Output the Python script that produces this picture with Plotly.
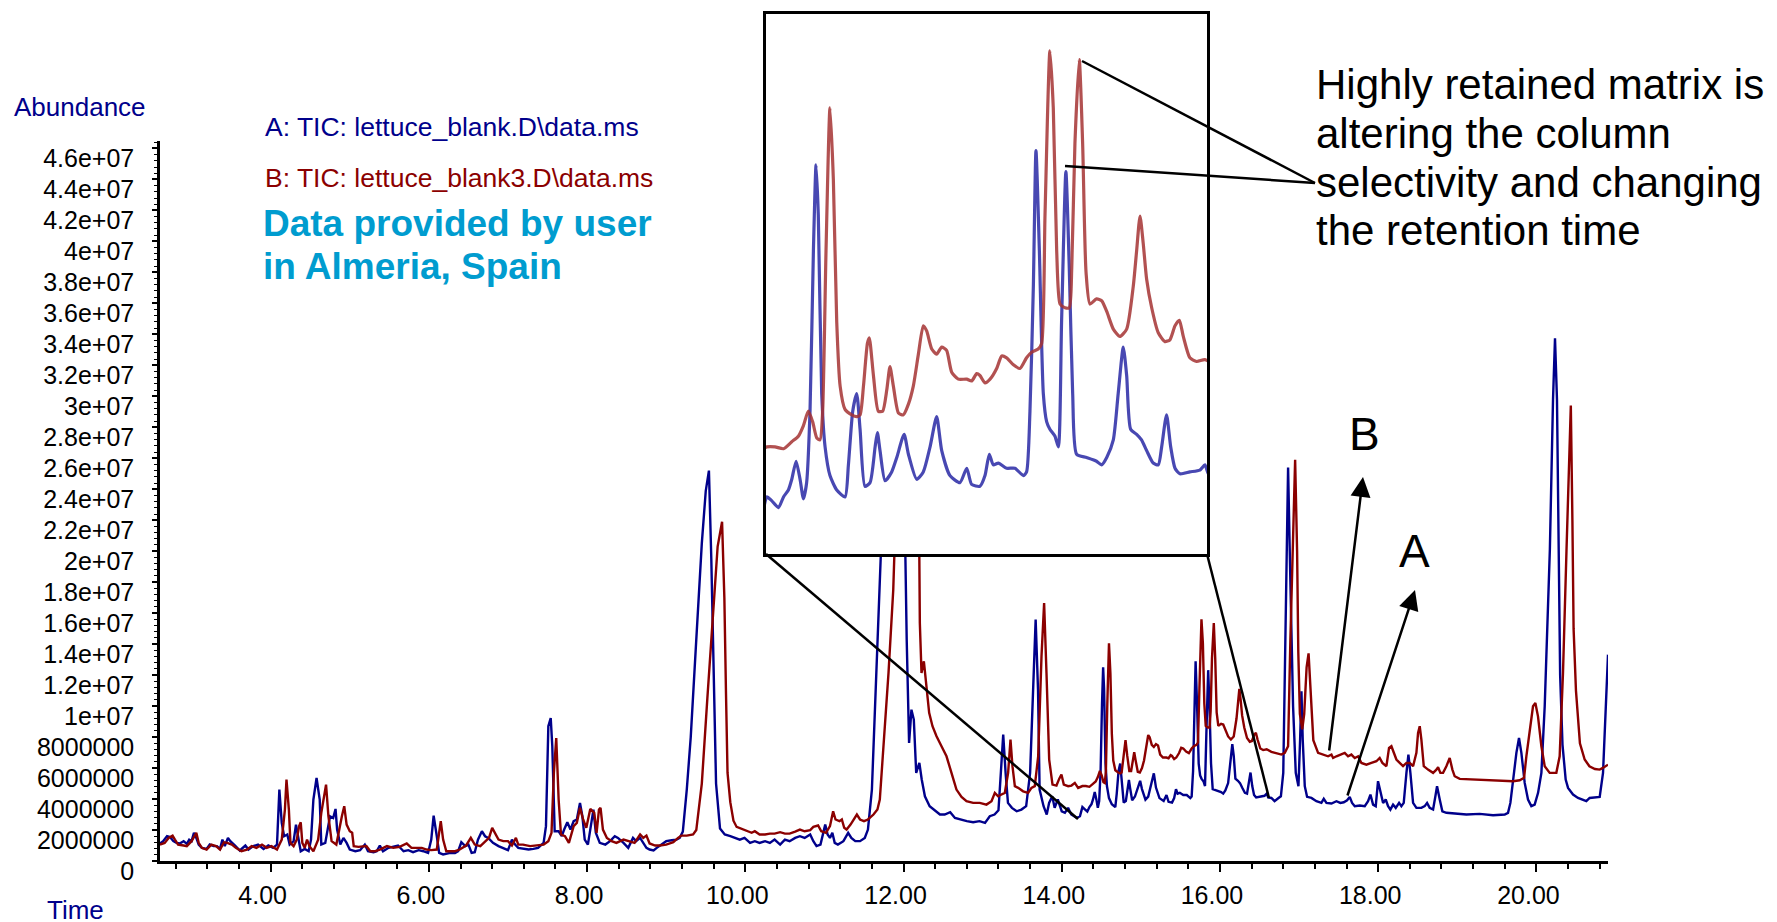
import plotly.graph_objects as go

# ---------------- data (time in min, abundance in millions) ----------------
a_time = [2.60, 2.64, 2.69, 2.73, 2.77, 2.81, 2.85, 2.90, 2.94, 2.97, 3.00, 3.03, 3.06, 3.09, 3.13, 3.19, 3.23, 3.28, 3.32, 3.36,
          3.39, 3.42, 3.46, 3.49, 3.55, 3.61, 3.68, 3.72, 3.78, 3.84, 3.91, 3.97, 4.03, 4.08, 4.11, 4.14, 4.17, 4.21, 4.24, 4.29,
          4.32, 4.35, 4.38, 4.43, 4.48, 4.51, 4.54, 4.58, 4.62, 4.64, 4.69, 4.75, 4.79, 4.82, 4.84, 4.88, 4.92, 4.96, 5.00, 5.07,
          5.13, 5.19, 5.23, 5.30, 5.34, 5.38, 5.42, 5.49, 5.55, 5.61, 5.68, 5.74, 5.80, 5.87, 5.93, 5.99, 6.03, 6.06, 6.10, 6.13,
          6.18, 6.27, 6.33, 6.37, 6.41, 6.46, 6.50, 6.54, 6.58, 6.62, 6.67, 6.71, 6.75, 6.81, 6.88, 6.94, 7.00, 7.05, 7.09, 7.13,
          7.19, 7.26, 7.32, 7.38, 7.45, 7.48, 7.51, 7.54, 7.56, 7.59, 7.64, 7.68, 7.71, 7.75, 7.79, 7.83, 7.87, 7.91, 7.94, 7.97,
          8.01, 8.04, 8.08, 8.11, 8.16, 8.23, 8.29, 8.35, 8.39, 8.46, 8.52, 8.58, 8.62, 8.67, 8.71, 8.75, 8.79, 8.84, 8.88, 8.94,
          9.00, 9.07, 9.13, 9.17, 9.21, 9.26, 9.31, 9.38, 9.45, 9.50, 9.54, 9.57, 9.60, 9.63, 9.68, 9.74, 9.81, 9.87, 9.93, 9.99,
          10.06, 10.12, 10.18, 10.25, 10.31, 10.37, 10.44, 10.50, 10.56, 10.63, 10.69, 10.75, 10.82, 10.86, 10.90, 10.95, 10.98,
          11.01, 11.04, 11.07, 11.10, 11.13, 11.17, 11.24, 11.30, 11.34, 11.39, 11.45, 11.51, 11.55, 11.60, 11.64, 11.68, 11.72,
          11.82, 11.93, 12.00, 12.02, 12.04, 12.07, 12.10, 12.13, 12.16, 12.20, 12.23, 12.27, 12.33, 12.40, 12.46, 12.52, 12.59,
          12.65, 12.71, 12.80, 12.88, 12.96, 13.03, 13.09, 13.15, 13.20, 13.23, 13.26, 13.29, 13.32, 13.37, 13.43, 13.49, 13.55,
          13.60, 13.64, 13.67, 13.70, 13.72, 13.77, 13.81, 13.84, 13.88, 13.91, 13.95, 14.00, 14.04, 14.08, 14.12, 14.19, 14.23,
          14.261, 14.287, 14.323, 14.350, 14.376, 14.394, 14.417, 14.438, 14.456, 14.473, 14.491, 14.509, 14.523, 14.535, 14.553,
          14.571, 14.597, 14.633, 14.677, 14.695, 14.718, 14.739, 14.757, 14.783, 14.810, 14.837, 14.849, 14.863, 14.890, 14.925,
          14.952, 14.991, 15.014, 15.058, 15.093, 15.129, 15.164, 15.191, 15.235, 15.288, 15.324, 15.350, 15.394, 15.421, 15.444,
          15.465, 15.492, 15.536, 15.580, 15.625, 15.642, 15.660, 15.678, 15.692, 15.710, 15.731, 15.749, 15.766, 15.793, 15.811,
          15.828, 15.851, 15.869, 15.887, 15.908, 15.961, 16.014, 16.041, 16.068, 16.103, 16.129, 16.156, 16.174, 16.195, 16.227,
          16.253, 16.280, 16.315, 16.342, 16.360, 16.386, 16.408, 16.431, 16.457, 16.510, 16.563, 16.590,
          16.61, 16.65, 16.69, 16.74, 16.77, 16.80, 16.83, 16.861, 16.89, 16.924, 16.958, 16.992, 17.013, 17.030, 17.046, 17.072,
          17.101, 17.156, 17.219, 17.282, 17.312, 17.346, 17.409, 17.472, 17.522, 17.565, 17.607, 17.640, 17.670, 17.704, 17.767,
          17.830, 17.872, 17.902, 17.935, 17.969, 17.998, 18.028, 18.062, 18.095, 18.125, 18.154, 18.188, 18.222, 18.264, 18.293,
          18.323, 18.357, 18.382, 18.407, 18.441, 18.483, 18.546, 18.588, 18.618, 18.651, 18.694, 18.723, 18.744, 18.778, 18.811,
          18.862, 18.946, 19.115, 19.283, 19.452, 19.599, 19.641, 19.671, 19.705, 19.747, 19.780, 19.810, 19.852, 19.894, 19.936,
          19.978, 20.021, 20.063, 20.105, 20.147, 20.17, 20.21, 20.235, 20.26, 20.28, 20.30, 20.33, 20.37, 20.40, 20.463, 20.526,
          20.589, 20.631, 20.673, 20.737, 20.800, 20.842, 20.876, 20.905]
a_abund_m = [1.13, 1.28, 1.60, 1.54, 1.28, 1.17, 1.13, 1.28, 1.11, 1.38, 1.28, 1.82, 1.49, 1.06, 0.85, 0.78, 1.06, 0.96, 0.96, 0.78,
             1.38, 0.96, 1.49, 1.28, 1.00, 0.68, 1.00, 0.74, 0.96, 1.06, 0.78, 1.00, 0.85, 1.06, 4.61, 2.46, 1.60, 1.71, 1.06, 1.28,
             2.35, 1.38, 0.63, 0.78, 0.63, 1.38, 3.97, 5.36, 3.97, 1.06, 1.17, 2.89, 2.78, 3.36, 2.03, 1.06, 1.49, 1.17, 0.74, 0.63,
             0.70, 1.06, 0.63, 0.57, 0.63, 1.00, 0.63, 0.85, 0.91, 1.00, 0.63, 0.70, 0.57, 0.70, 0.63, 0.52, 1.38, 2.93, 1.60, 0.52,
             0.42, 0.52, 0.52, 0.63, 1.21, 0.96, 1.06, 0.52, 0.57, 1.38, 1.92, 1.60, 1.49, 1.17, 0.96, 0.85, 0.70, 1.38, 1.06, 0.85,
             0.78, 0.74, 0.78, 0.85, 1.17, 2.25, 8.70, 9.23, 7.41, 1.92, 1.92, 1.60, 2.03, 2.50, 2.03, 2.57, 2.68, 3.75, 2.89, 1.38,
             1.06, 2.03, 3.32, 1.82, 1.17, 1.06, 1.28, 1.60, 1.49, 1.17, 0.85, 1.49, 1.28, 1.49, 1.17, 0.85, 0.74, 0.68, 0.85, 1.06,
             1.28, 1.34, 1.38, 1.49, 1.90, 4.61, 8.00, 14.29, 20.50, 23.90, 25.20, 19.50, 11.50, 5.00, 2.10, 1.71, 1.60, 1.49, 1.38, 1.49,
             1.17, 1.28, 1.17, 1.28, 1.17, 1.38, 1.06, 1.38, 1.28, 1.49, 1.60, 1.49, 1.71, 1.28, 0.96, 1.06, 1.71,
             2.35, 1.71, 1.49, 1.82, 1.17, 1.06, 1.28, 1.82, 1.49, 1.28, 1.28, 1.49, 2.03, 4.61, 9.99, 16.44, 20.74,
             27.5, 30.0, 25.0, 20.74, 14.29, 7.62, 9.77, 9.13, 5.69, 6.33, 5.26, 4.18, 3.54, 3.27, 3.00, 3.00, 3.15,
             2.78, 2.68, 2.57, 2.50, 2.57, 2.46, 2.89, 3.00, 3.27, 5.69, 8.16, 5.69, 3.75, 3.43, 3.21, 3.32, 3.54,
             5.69, 12.14, 15.58, 11.06, 4.61, 3.54, 3.00, 3.75, 4.18, 3.43, 3.97, 3.21, 3.11, 3.43, 3.00, 2.78, 2.89,
             3.48, 3.38, 3.19, 3.48, 3.67, 3.96, 4.45, 3.96, 3.43, 3.87, 5.81, 10.17, 12.50, 11.14, 6.29,
             4.84, 4.06, 3.67, 3.48, 4.35, 5.81, 6.29, 5.32, 3.77, 3.87, 4.84, 5.23, 4.74, 3.92, 4.16,
             4.55, 5.18, 4.64, 3.96, 4.16, 4.84, 5.66, 4.74, 4.06, 3.87, 4.26, 3.82, 3.77, 4.06, 4.64,
             4.35, 4.40, 4.26, 4.26, 4.06, 4.16, 5.81, 9.20, 12.89, 10.17, 6.29, 5.52, 5.32, 5.13, 4.84,
             8.23, 12.32, 9.69, 6.29, 4.64, 4.55, 4.45, 4.35, 4.55, 5.03, 6.29, 7.55, 6.78, 5.32, 5.18,
             5.03, 4.74, 4.40, 4.35, 4.84, 5.71, 4.84, 4.26, 4.11, 4.16, 4.21, 4.35,
             4.10, 4.07, 3.86, 4.07, 4.18, 5.69, 14.29, 25.40, 18.0, 9.99, 5.69, 4.83, 7.84, 10.96, 7.84, 4.83,
             4.14, 4.07, 3.86, 3.75, 4.01, 3.75, 3.71, 3.86, 3.75, 3.79, 3.92, 4.14, 3.75, 3.54, 3.58,
             3.54, 3.86, 4.29, 3.64, 3.54, 5.15, 4.40, 3.75, 3.97, 3.54, 3.32, 3.64, 3.43, 3.75, 3.54,
             3.75, 5.69, 6.87, 5.69, 3.75, 3.43, 3.43, 3.54, 3.75, 3.43, 3.32, 4.18, 4.83, 3.97, 3.21,
             3.11, 3.06, 3.00, 3.04, 2.95, 3.00, 3.11, 3.75, 5.26, 6.98, 7.94, 6.98, 5.04, 3.97, 3.54,
             3.64, 4.40, 5.69, 9.99, 16.44, 20.10, 29.80, 33.75, 29.80, 20.10, 12.00, 7.50, 5.26, 4.72, 4.29, 4.07,
             3.97, 3.86, 4.07, 4.12, 4.14, 5.69, 9.99, 13.32]

b_time = [2.60, 2.66, 2.71, 2.76, 2.79, 2.83, 2.90, 2.94, 3.00, 3.06, 3.09, 3.13, 3.19, 3.25, 3.31, 3.36, 3.41, 3.45, 3.51, 3.56,
          3.63, 3.70, 3.76, 3.82, 3.89, 3.95, 4.01, 4.08, 4.14, 4.18, 4.20, 4.23, 4.25, 4.29, 4.33, 4.36, 4.38, 4.40, 4.43, 4.46,
          4.49, 4.54, 4.60, 4.64, 4.70, 4.73, 4.77, 4.83, 4.90, 4.93, 4.96, 5.00, 5.03, 5.05, 5.11, 5.17, 5.21, 5.26, 5.32, 5.38,
          5.47, 5.55, 5.63, 5.72, 5.78, 5.85, 5.91, 5.97, 6.03, 6.10, 6.13, 6.15, 6.18, 6.22, 6.27, 6.33, 6.39, 6.47, 6.53, 6.58,
          6.65, 6.71, 6.76, 6.80, 6.84, 6.88, 6.94, 7.00, 7.05, 7.10, 7.13, 7.19, 7.28, 7.36, 7.45, 7.51, 7.55, 7.58, 7.61, 7.64,
          7.67, 7.72, 7.77, 7.83, 7.87, 7.91, 7.95, 7.99, 8.04, 8.09, 8.12, 8.15, 8.17, 8.20, 8.25, 8.31, 8.37, 8.46, 8.54, 8.60,
          8.67, 8.71, 8.75, 8.79, 8.86, 8.92, 9.00, 9.09, 9.15, 9.19, 9.26, 9.34, 9.38, 9.45, 9.52, 9.59, 9.65, 9.706, 9.735, 9.755,
          9.775, 9.81, 9.85, 9.89, 9.95, 10.02, 10.08, 10.12, 10.18, 10.25, 10.31, 10.37, 10.44, 10.50, 10.56, 10.63, 10.69, 10.75,
          10.82, 10.86, 10.92, 10.96, 11.02, 11.07, 11.11, 11.14, 11.19, 11.22, 11.25, 11.28, 11.33, 11.41, 11.45, 11.50, 11.55,
          11.62, 11.67, 11.70, 11.74, 11.81, 11.87, 11.89, 12.00, 12.10, 12.17, 12.198, 12.206, 12.227, 12.257, 12.282, 12.324,
          12.366, 12.417, 12.480, 12.543, 12.606, 12.669, 12.733, 12.796, 12.880, 12.964, 13.048, 13.112, 13.154, 13.196, 13.238,
          13.280, 13.322, 13.352, 13.377, 13.407, 13.449, 13.512, 13.575, 13.617, 13.659, 13.702, 13.744, 13.777, 13.807, 13.841,
          13.883, 13.933, 13.967, 13.996, 14.026, 14.081, 14.123, 14.165, 14.207,
          14.261, 14.305, 14.350, 14.394, 14.429, 14.456, 14.482, 14.505, 14.527, 14.544, 14.558, 14.576, 14.597, 14.615, 14.633,
          14.651, 14.677, 14.713, 14.739, 14.757, 14.775, 14.796, 14.806, 14.828, 14.854, 14.877, 14.899, 14.916, 14.934, 14.961,
          14.987, 15.014, 15.040, 15.067, 15.093, 15.111, 15.138, 15.164, 15.191, 15.217, 15.244, 15.279, 15.324, 15.350, 15.377,
          15.394, 15.421, 15.448, 15.483, 15.510, 15.536, 15.572, 15.607, 15.642, 15.669, 15.704, 15.722, 15.740, 15.766, 15.784,
          15.802, 15.820, 15.846, 15.869, 15.882, 15.899, 15.922, 15.940, 15.958, 15.979, 16.014, 16.041, 16.068, 16.103, 16.138,
          16.174, 16.209, 16.227, 16.245, 16.262, 16.280, 16.307, 16.342, 16.377, 16.404, 16.431, 16.454, 16.475, 16.510, 16.546,
          16.590,
          16.650, 16.714, 16.777, 16.819, 16.861, 16.89, 16.92, 16.95, 16.975, 16.99, 17.01, 17.04, 17.065, 17.095, 17.12, 17.145,
          17.18, 17.24, 17.303, 17.366, 17.409, 17.430, 17.472, 17.535, 17.577, 17.619, 17.661, 17.704, 17.746, 17.788, 17.851,
          17.914, 17.977, 18.019, 18.053, 18.104, 18.137, 18.167, 18.196, 18.230, 18.272, 18.314, 18.357, 18.399, 18.441, 18.483,
          18.504, 18.525, 18.546, 18.576, 18.630, 18.694, 18.736, 18.757, 18.786, 18.820, 18.862, 18.904, 18.938, 18.967, 19.031,
          19.199, 19.368, 19.536, 19.705, 19.789, 19.844, 19.873, 19.924, 19.957, 19.987, 20.020, 20.063, 20.105, 20.168, 20.252,
          20.294, 20.336, 20.38, 20.41, 20.435, 20.455, 20.47, 20.50, 20.55, 20.61, 20.67, 20.74, 20.80, 20.84, 20.905]
b_abund_m = [1.06, 1.17, 1.49, 1.64, 1.38, 1.06, 1.00, 0.96, 1.28, 1.82, 1.17, 0.85, 0.74, 1.06, 0.96, 0.74, 1.21, 1.17, 1.06, 0.85,
             0.63, 0.74, 0.96, 0.85, 1.06, 0.85, 0.96, 0.74, 1.38, 3.32, 5.26, 3.32, 1.17, 0.96, 1.38, 2.25, 2.50, 1.17, 0.85, 1.38,
             0.96, 0.63, 1.38, 3.11, 4.93, 2.89, 1.28, 1.06, 2.89, 3.54, 2.35, 1.92, 1.82, 0.96, 0.91, 0.96, 0.96, 0.63, 0.63, 0.74,
             0.96, 0.85, 0.91, 1.13, 0.85, 0.85, 0.85, 0.74, 0.70, 0.74, 1.82, 2.57, 1.38, 0.63, 0.63, 0.63, 0.74, 1.00, 1.49, 1.06,
             0.96, 1.28, 1.49, 2.14, 1.71, 1.38, 1.28, 1.28, 1.00, 1.49, 1.06, 1.06, 0.96, 1.00, 1.06, 1.28, 1.82, 5.69, 7.94, 3.97,
             1.71, 1.60, 1.17, 2.25, 2.46, 3.43, 2.68, 2.14, 3.36, 3.11, 1.82, 3.32, 3.43, 2.03, 1.49, 1.28, 1.17, 1.38, 1.28, 1.17,
             1.71, 1.49, 1.64, 1.13, 1.00, 1.00, 1.06, 1.21, 1.49, 1.64, 1.64, 1.71, 2.00, 5.00, 10.50, 16.00, 20.30, 21.90, 17.00, 11.00,
             5.70, 3.80, 2.60, 2.20, 2.07, 1.92, 1.82, 1.92, 1.71, 1.71, 1.77, 1.77, 1.86, 1.77, 1.77, 1.90, 2.03, 1.92,
             1.99, 2.20, 2.29, 1.92, 1.82, 2.25, 3.21, 2.68, 2.57, 2.68, 2.14, 2.03, 2.35, 3.00, 2.68, 2.57, 2.68,
             3.00, 3.32, 3.97, 6.76, 12.14, 17.51, 20.74, 26.0, 28.5, 24.0, 20.74, 15.36, 12.14, 12.89, 11.71, 9.56,
             8.70, 8.05, 7.41, 6.76, 5.69, 4.61, 4.14, 3.86, 3.75, 3.75, 3.64, 3.86, 4.40, 4.18, 4.29,
             4.40, 5.69, 7.84, 6.12, 4.83, 4.72, 4.50, 4.40, 4.72, 4.83, 6.76, 13.21, 16.65, 12.14, 6.55,
             4.93, 4.87, 5.30, 5.58, 4.93, 4.83, 4.87, 5.04, 4.72,
             4.84, 4.84, 4.79, 4.98, 5.13, 5.42, 5.81, 5.52, 5.08, 5.03, 5.81, 10.17, 14.05, 12.11, 8.23,
             6.49, 5.86, 5.71, 5.66, 5.71, 6.49, 7.65, 7.80, 6.78, 5.81, 5.81, 6.39, 7.02, 6.49, 5.76,
             5.71, 6.00, 6.49, 7.36, 8.13, 7.99, 7.50, 7.36, 7.55, 7.46, 6.87, 6.68, 6.68, 6.63, 6.83,
             6.78, 6.58, 6.68, 6.97, 7.31, 7.26, 7.07, 6.97, 7.26, 7.41, 7.50, 7.65, 11.14, 15.60, 14.05,
             10.17, 8.72, 8.62, 8.62, 9.69, 13.08, 15.36, 13.08, 9.59, 8.72, 8.86, 8.81, 8.52, 8.04, 7.84,
             8.04, 9.20, 10.17, 11.11, 10.37, 9.40, 8.62, 7.94, 7.70, 7.75, 8.13, 8.28, 7.84, 7.26, 7.16,
             7.21,
             7.05, 6.98, 6.87, 6.98, 7.41, 14.29, 21.00, 25.90, 20.00, 13.50, 9.50, 8.50, 9.50, 12.50, 13.40, 11.00,
             7.80, 6.98, 6.87, 6.76, 6.87, 6.65, 6.76, 6.87, 6.98, 6.76, 6.87, 6.65, 6.76, 6.33, 6.22,
             6.33, 6.44, 6.65, 6.33, 6.12, 7.30, 7.41, 6.98, 6.55, 6.33, 6.12, 6.33, 6.33, 6.12, 6.98,
             8.27, 8.70, 7.84, 6.12, 5.90, 5.69, 5.90, 6.05, 5.69, 5.69, 6.12, 6.65, 5.90, 5.47, 5.30,
             5.26, 5.21, 5.15, 5.15, 5.21, 5.37, 6.76, 8.70, 9.99, 10.20, 9.34, 7.41, 6.12, 5.69, 5.69,
             6.76, 12.14, 20.00, 25.50, 29.40, 22.00, 15.00, 11.00, 7.60, 6.55, 6.12, 5.94, 5.90, 6.01, 6.22]

a_abund = [v * 1e6 for v in a_abund_m]
b_abund = [v * 1e6 for v in b_abund_m]

y_tick_values = [i * 2_000_000 for i in range(24)]
y_tick_labels = [str(int(v)) if v < 1e7 else ('%g' % v) for v in y_tick_values]
x_tick_values = [4, 6, 8, 10, 12, 14, 16, 18, 20]
x_tick_labels = ['%.2f' % v for v in x_tick_values]

legend_a = 'A: TIC: lettuce_blank.D\\data.ms'
legend_b = 'B: TIC: lettuce_blank3.D\\data.ms'
note_lines = ['Highly retained matrix is', 'altering the column',
              'selectivity and changing', 'the retention time']

# ---------------- layout geometry (page pixels; page has an 8px body margin) ----------------
W, H = 1777, 922
OFF = 8
L, R, T, B = 160, 1608, 10, 861       # paper box in page pixels
MAIN_TOP = 141


def P(x, y):
    return (x - L) / (R - L), (B - y) / (B - T)


NAVY = '#00008B'
DRED = '#8B0000'
FONT = 'Liberation Sans, Arial, sans-serif'

fig = go.Figure()
fig.add_trace(go.Scatter(x=a_time, y=a_abund, mode='lines', line=dict(color=NAVY, width=2.4),
                         xaxis='x', yaxis='y', showlegend=False, hoverinfo='skip'))
fig.add_trace(go.Scatter(x=b_time, y=b_abund, mode='lines', line=dict(color=DRED, width=2.4),
                         xaxis='x', yaxis='y', showlegend=False, hoverinfo='skip'))
# inset (magnified view of the same two traces)
fig.add_trace(go.Scatter(x=a_time, y=a_abund, mode='lines',
                         line=dict(color='rgba(40,40,165,0.85)', width=3.2, shape='spline', smoothing=0.6),
                         xaxis='x2', yaxis='y2', showlegend=False, hoverinfo='skip'))
fig.add_trace(go.Scatter(x=b_time, y=b_abund, mode='lines',
                         line=dict(color='rgba(165,50,50,0.85)', width=3.2, shape='spline', smoothing=0.6),
                         xaxis='x2', yaxis='y2', showlegend=False, hoverinfo='skip'))

ix0, iy0 = P(766, 554)
ix1, iy1 = P(1207, 14)

fig.update_layout(
    width=W, height=H,
    margin=dict(l=L - OFF, r=W - (R - OFF), t=T - OFF, b=H - (B - OFF), autoexpand=False),
    paper_bgcolor='white', plot_bgcolor='white',
    font=dict(family=FONT, color='black'),
    xaxis=dict(domain=[0, 1], range=[2.601, 20.905], showgrid=False, zeroline=False, automargin=False,
               showline=True, linecolor='black', linewidth=2.5,
               ticks='outside', ticklen=8, tickwidth=2, tickcolor='black',
               tickvals=x_tick_values, ticktext=x_tick_labels,
               tickfont=dict(size=25, family=FONT, color='black'),
               ticklabelshift=-8, ticklabelstandoff=2,
               minor=dict(ticks='outside', dtick=0.4, tick0=0, ticklen=5, tickwidth=1.5, tickcolor='black')),
    yaxis=dict(domain=[0, (B - MAIN_TOP) / (B - T)], range=[0, 4.648e7], showgrid=False, zeroline=False,
               automargin=False,
               showline=True, linecolor='black', linewidth=2.5,
               ticks='outside', ticklen=5, tickwidth=2, tickcolor='black',
               tickvals=y_tick_values, ticktext=y_tick_labels,
               tickfont=dict(size=25, family=FONT, color='black'),
               ticklabelshift=10, ticklabelstandoff=13,
               minor=dict(ticks='outside', dtick=4e5, tick0=0, ticklen=3, tickwidth=1.2, tickcolor='black')),
    xaxis2=dict(domain=[ix0, ix1], range=[14.257, 16.601], anchor='y2', showgrid=False, zeroline=False,
                automargin=False,
                showline=True, mirror=True, linecolor='black', linewidth=3, showticklabels=False, ticks=''),
    yaxis2=dict(domain=[iy0, iy1], range=[1.93e6, 16.6e6], anchor='x2', showgrid=False, zeroline=False,
                automargin=False,
                showline=True, mirror=True, linecolor='black', linewidth=3, showticklabels=False, ticks=''),
)

ann = []


def text(x, y, s, size, color='black', bold=False, xanchor='left'):
    px, py = P(x, y)
    ann.append(dict(x=px, y=py, xref='paper', yref='paper', text=('<b>%s</b>' % s) if bold else s,
                    showarrow=False, xanchor=xanchor, yanchor='middle',
                    font=dict(size=size, color=color, family=FONT)))


text(12, 107, 'Abundance', 26, NAVY)
text(45, 910, 'Time', 26, NAVY)
text(263, 127, legend_a, 26.5, NAVY)
text(263, 178, legend_b, 26.5, DRED)
text(261, 223, 'Data provided by user', 37, '#009CCF', bold=True)
text(261, 266, 'in Almeria, Spain', 37, '#009CCF', bold=True)
for i, ln in enumerate(note_lines):
    text(1314, 84 + 49 * i, ln, 42)
text(1364, 434, 'B', 46, xanchor='center')
text(1414, 551, 'A', 46, xanchor='center')


def arrow(tail, tip):
    px, py = P(*tip)
    ann.append(dict(x=px, y=py, xref='paper', yref='paper', ax=tail[0] - tip[0], ay=tail[1] - tip[1],
                    axref='pixel', ayref='pixel', text='', showarrow=True, arrowhead=2, arrowsize=1.6,
                    arrowwidth=2.5, arrowcolor='black', standoff=0))


arrow((1329, 752), (1363, 477))
arrow((1347, 797), (1415, 590))
fig.update_layout(annotations=ann)

shapes = []
for (x0, y0), (x1, y1) in [((766, 554), (1078, 819)), ((1207, 554), (1269, 798)),
                           ((1082, 61), (1315, 183)), ((1065, 166), (1315, 183))]:
    a0, b0 = P(x0, y0)
    a1, b1 = P(x1, y1)
    shapes.append(dict(type='line', xref='paper', yref='paper', x0=a0, y0=b0, x1=a1, y1=b1,
                       line=dict(color='black', width=2.5)))
fig.update_layout(shapes=shapes)

fig.write_html('out.html')
